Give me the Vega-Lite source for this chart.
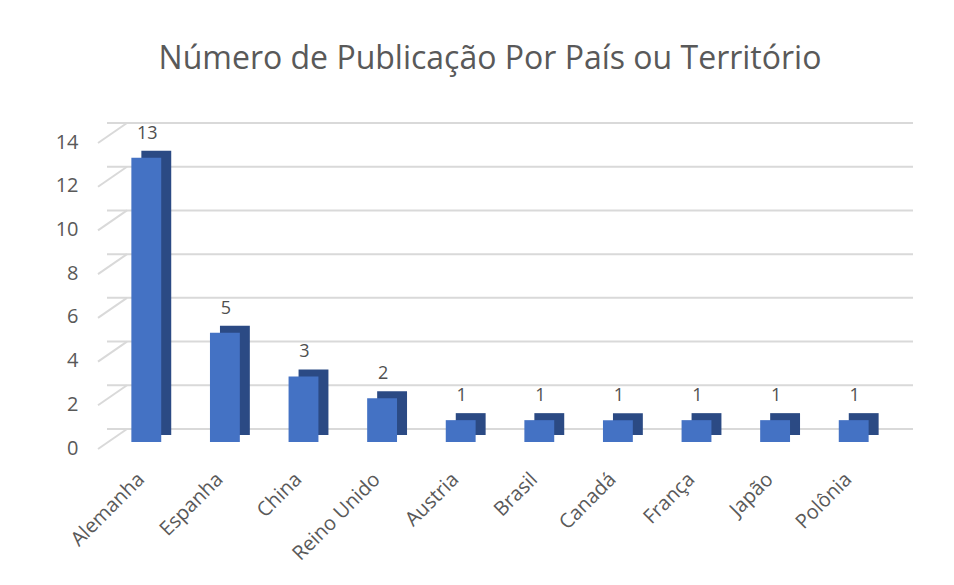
{
  "$schema": "https://vega.github.io/schema/vega-lite/v6.json",
  "width": 786,
  "height": 306,
  "autosize": "none",
  "padding": {"left": 107, "top": 136, "right": 61, "bottom": 143},
  "background": "white",
  "config": {"view": {"stroke": null}, "font": "Open Sans"},
  "title": {
    "text": "Número de Publicação Por País ou Território",
    "font": "Open Sans",
    "fontSize": 32,
    "fontWeight": "normal",
    "color": "#595959",
    "anchor": "middle",
    "frame": "group",
    "baseline": "alphabetic",
    "offset": 21,
    "dx": -10
  },
  "data": {
    "values": [
      {"pais": "Alemanha", "n": 13},
      {"pais": "Espanha", "n": 5},
      {"pais": "China", "n": 3},
      {"pais": "Reino Unido", "n": 2},
      {"pais": "Austria", "n": 1},
      {"pais": "Brasil", "n": 1},
      {"pais": "Canadá", "n": 1},
      {"pais": "França", "n": 1},
      {"pais": "Japão", "n": 1},
      {"pais": "Polônia", "n": 1}
    ]
  },
  "layer": [
    {
      "data": {"values": [{"g": 0}, {"g": 2}, {"g": 4}, {"g": 6}, {"g": 8}, {"g": 10}, {"g": 12}, {"g": 14}]},
      "mark": {"type": "rule", "color": "#d9d9d9", "strokeWidth": 2, "xOffset": 20, "x2Offset": 20, "yOffset": -13},
      "encoding": {
        "y": {"field": "g", "type": "quantitative", "scale": {"domain": [0, 14]},
              "axis": {"title": null, "domain": false, "ticks": false, "tickSize": 0, "grid": false,
                       "values": [0, 2, 4, 6, 8, 10, 12, 14],
                       "labelPadding": 29, "labelOffset": 6, "labelFontSize": 20,
                       "labelColor": "#595959", "labelFont": "Open Sans"}}
      }
    },
    {
      "data": {"values": [{"g": 0}, {"g": 2}, {"g": 4}, {"g": 6}, {"g": 8}, {"g": 10}, {"g": 12}, {"g": 14}]},
      "mark": {"type": "rule", "color": "#d9d9d9", "strokeWidth": 2, "yOffset": 7, "y2Offset": -13},
      "encoding": {
        "x": {"value": -9},
        "x2": {"value": 20},
        "y": {"field": "g", "type": "quantitative"},
        "y2": {"field": "g"}
      }
    },
    {
      "mark": {"type": "bar", "color": "#2B4A84", "xOffset": 10, "yOffset": -7, "y2Offset": -7},
      "encoding": {
        "x": {"field": "pais", "type": "nominal", "sort": null,
              "scale": {"paddingInner": 0.62, "paddingOuter": 0.31},
              "axis": {"title": null, "domain": false, "ticks": false, "tickSize": 0,
                       "labelAngle": -45, "labelAlign": "right", "labelBaseline": "middle",
                       "labelPadding": 34, "labelOffset": -5, "labelFontSize": 20, "labelColor": "#595959",
                       "labelFont": "Open Sans"}},
        "y": {"field": "n", "type": "quantitative"}
      }
    },
    {
      "mark": {"type": "bar", "color": "#4472C4"},
      "encoding": {
        "x": {"field": "pais", "type": "nominal", "sort": null},
        "y": {"field": "n", "type": "quantitative"}
      }
    },
    {
      "mark": {"type": "text", "baseline": "alphabetic", "dy": -19, "dx": 1, "fontSize": 18, "color": "#505050", "font": "Open Sans"},
      "encoding": {
        "x": {"field": "pais", "type": "nominal", "sort": null},
        "y": {"field": "n", "type": "quantitative"},
        "text": {"field": "n", "type": "quantitative"}
      }
    }
  ]
}
